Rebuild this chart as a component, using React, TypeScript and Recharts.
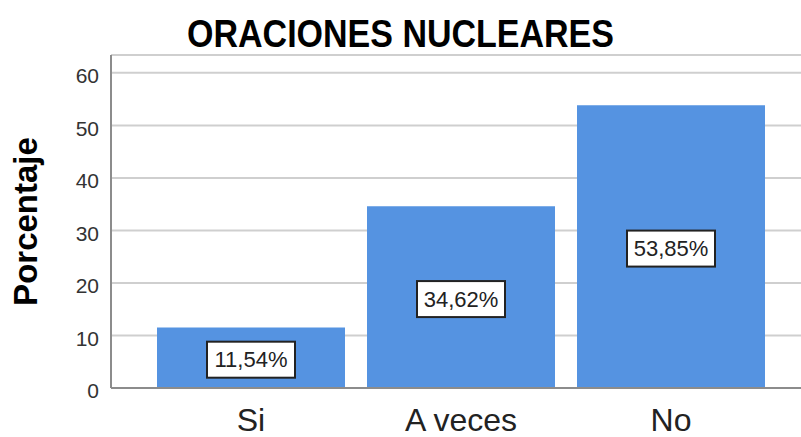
import React from 'react';
import { BarChart, Bar, XAxis, YAxis, CartesianGrid, LabelList, Label } from 'recharts';

const categories = ['Si', 'A veces', 'No'];
const percentages = [11.54, 34.62, 53.85];
const yTicks = [0, 10, 20, 30, 40, 50, 60];

const data = categories.map((name, i) => ({ name, value: percentages[i] }));

const FONT = '"Liberation Sans", Arial, sans-serif';

const BoxLabel = (props: any) => {
    const { x, y, width, height, value } = props;
    const cx = x + width / 2;
    const cy = y + height / 2 + 2;
    const text = `${Number(value).toFixed(2).replace('.', ',')}%`;
    return (
        <g>
            <rect x={cx - 44} y={cy - 18} width={88} height={36} fill="#fff" stroke="#222" strokeWidth={2} />
            <text x={cx} y={cy} textAnchor="middle" dominantBaseline="central" fontFamily={FONT} fontSize={22} fill="#222">
                {text}
            </text>
        </g>
    );
};

const YTitle = (props: any) => {
    const { viewBox } = props;
    const cy = viewBox.y + viewBox.height / 2;
    return (
        <text x={25} y={cy} transform={`rotate(-90 25 ${cy})`} textAnchor="middle" dominantBaseline="central"
            fontFamily={FONT} fontWeight="bold" fontSize={33} fill="#000">
            Porcentaje
        </text>
    );
};

export default function App() {
    return (
        <div style={{ position: 'absolute', left: 0, top: 0, width: 801, height: 437, background: '#fff' }}>
            <div style={{
                position: 'absolute', left: 0, top: 14, width: 801, textAlign: 'center',
                fontFamily: FONT, fontWeight: 'bold', fontSize: 34, lineHeight: '40px', color: '#000',
                transform: 'scaleY(1.12)',
            }}>
                ORACIONES NUCLEARES
            </div>
            <BarChart width={801} height={437} data={data} barCategoryGap={11}
                margin={{ top: 55, right: 0, left: 0, bottom: 0 }}>
                <CartesianGrid vertical={false} stroke="#cfcfcf" strokeWidth={2} />
                <XAxis dataKey="name" height={49} padding={{ left: 35, right: 25 }} tickLine={false}
                    axisLine={{ stroke: '#8c8c8c', strokeWidth: 2 }} tickSize={6} tickMargin={14}
                    tick={{ fontFamily: FONT, fontSize: 32, fill: '#222' }} interval={0} />
                <YAxis width={111} domain={[0, 63.4]} ticks={yTicks} interval={0} tickLine={false}
                    axisLine={{ stroke: '#8c8c8c', strokeWidth: 2 }} tickSize={6} tickMargin={6}
                    tick={{ fontFamily: FONT, fontSize: 21, fill: '#333', dy: 3 }}>
                    <Label content={<YTitle />} />
                </YAxis>
                <Bar dataKey="value" fill="#5593e1" isAnimationActive={false}>
                    <LabelList dataKey="value" content={<BoxLabel />} />
                </Bar>
            </BarChart>
        </div>
    );
}
